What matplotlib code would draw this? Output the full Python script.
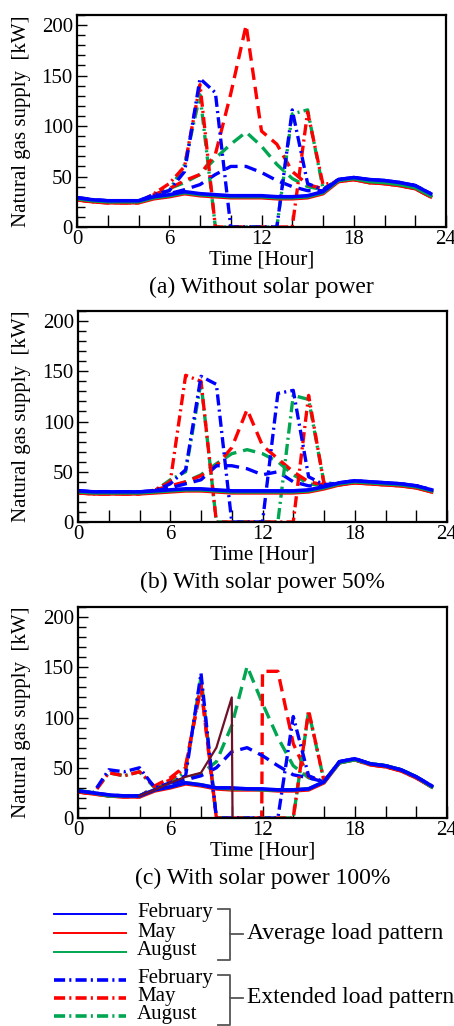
import matplotlib
matplotlib.use("Agg")
import matplotlib.pyplot as plt
from matplotlib.lines import Line2D
from matplotlib.ticker import MultipleLocator

plt.rcParams["font.family"] = ["Liberation Serif", "DejaVu Serif"]
plt.rcParams["lines.scale_dashes"] = False

hours = list(range(24))

# (a) without solar power
a_avg_feb = [29,27,26,26,26,30,32,35,33,32,31,31,31,30,30,31,35,47,49,47,46,44,41,33]
a_avg_may = [27,25,24,24,24,28,30,33,31,30,29,29,29,28,28,29,33,45,47,44,43,41,38,30]
a_avg_aug = [28,26,25,25,25,29,31,34,32,31,30,30,30,29,29,30,34,46,48,45,44,42,39,31]
a_dash_feb = [29,27,26,26,26,31,33,37,42,52,60,60,54,46,40,36,36,47,49,47,46,44,41,33]
a_dash_may = [27,25,24,24,24,32,38,46,52,72,132,200,95,82,55,42,38,45,47,44,43,41,38,30]
a_dash_aug = [28,26,25,25,25,31,38,44,52,68,82,94,80,62,48,40,37,46,48,45,44,42,39,31]
a_ext_feb = [29,27,26,26,26,32,36,55,147,133,0,0,0,0,116,43,37,47,49,47,46,44,41,33]
a_ext_may = [27,25,24,24,24,33,43,60,141,0,0,0,0,0,0,114,42,45,47,44,43,41,38,30]
a_ext_aug = [28,26,25,25,25,32,36,62,131,0,0,0,0,0,112,116,38,46,48,45,44,42,39,31]

# (b) with solar power 50%
b_avg_feb = [31,30,30,30,30,31,32,33,33,32,31,31,31,31,31,32,35,39,41,40,39,38,36,32]
b_avg_may = [29,28,28,28,28,29,30,31,31,30,29,29,29,29,29,30,33,37,39,38,37,36,34,30]
b_avg_aug = [30,29,29,29,29,30,31,32,32,31,30,30,30,30,30,31,34,38,40,39,38,37,35,31]
b_dash_feb = [31,30,30,30,30,31,34,38,42,56,56,53,47,50,40,36,36,39,41,40,39,38,36,32]
b_dash_may = [29,28,28,28,28,32,36,40,46,56,74,112,76,63,50,40,37,37,39,38,37,36,34,30]
b_dash_aug = [30,29,29,29,29,31,35,40,47,58,68,72,68,60,47,38,36,38,40,39,38,37,35,31]
b_ext_feb = [31,30,30,30,30,31,38,52,145,137,0,0,0,128,131,45,37,39,41,40,39,38,36,32]
b_ext_may = [29,28,28,28,28,32,40,146,140,0,0,0,0,0,0,126,38,37,39,38,37,36,34,30]
b_ext_aug = [30,29,29,29,29,31,42,50,139,0,0,0,0,0,126,122,39,38,40,39,38,37,35,31]

# (c) with solar power 100%
c_avg_feb = [27,25,23,22,22,28,31,35,33,30,30,29,29,28,28,29,36,56,59,54,52,48,41,32]
c_avg_may = [26,24,22,21,21,27,30,34,32,29,28,28,28,27,27,28,35,55,58,53,51,47,40,31]
c_avg_aug = [27,25,22,22,22,28,31,35,33,30,29,29,28,28,28,29,36,55,58,54,52,48,41,31]
c_dash_feb = [27,25,23,22,22,29,33,38,42,50,66,70,62,52,43,40,36,56,59,54,52,48,41,32]
c_may_hours = list(range(12)) + [11.95] + list(range(12, 24))
c_dash_may = [26,24,22,21,21,32,40,52,130,0,0,0,0,146,146,74,41,36,55,58,53,51,47,40,31]
c_dash_aug = [27,25,22,22,22,30,34,40,44,56,92,151,114,80,52,40,36,55,58,54,52,48,41,31]
c_ext_feb = [27,25,48,46,50,30,35,42,144,0,0,0,0,0,101,42,36,56,59,54,52,48,41,32]
c_ext_may = [26,24,45,42,46,31,38,50,133,0,0,0,0,0,0,107,37,55,58,53,51,47,40,31]
c_ext_aug = [27,25,45,42,46,30,36,46,140,0,0,0,0,0,0,106,37,55,58,54,52,48,41,31]
c_extra_hours = [4,5,6,7,8,9,10,10.05]
c_extra = [22,28,35,41,45,70,120,0]

captions = ["(a) Without solar power", "(b) With solar power 50%", "(c) With solar power 100%"]
months = ["February", "May", "August"]

BLUE, RED, GREEN, MAROON = "#0000ff", "#ff0000", "#00a651", "#6e1028"
DASH = (0, (9, 5))
DASHDOT = (0, (8, 3, 1.5, 3))

W, H = 454, 1026
fig = plt.figure(figsize=(W / 100, H / 100), dpi=100)

def box(left, top, right, bottom):
    return [left / W, 1 - bottom / H, (right - left) / W, (bottom - top) / H]

panel_px = [(77, 15, 446, 227), (78, 311, 447, 522), (78, 607, 447, 818)]

data = [
    (a_avg_feb, a_avg_may, a_avg_aug, a_dash_feb, a_dash_may, a_dash_aug, a_ext_feb, a_ext_may, a_ext_aug),
    (b_avg_feb, b_avg_may, b_avg_aug, b_dash_feb, b_dash_may, b_dash_aug, b_ext_feb, b_ext_may, b_ext_aug),
    (c_avg_feb, c_avg_may, c_avg_aug, c_dash_feb, c_dash_may, c_dash_aug, c_ext_feb, c_ext_may, c_ext_aug),
]

for i, (pp, d) in enumerate(zip(panel_px, data)):
    ax = fig.add_axes(box(*pp))
    avg_f, avg_m, avg_a, dsh_f, dsh_m, dsh_a, ext_f, ext_m, ext_a = d
    may_x = c_may_hours if i == 2 else hours

    ax.plot(hours, dsh_a, color=GREEN, ls=DASH, lw=2.4)
    ax.plot(may_x, dsh_m, color=RED, ls=DASH, lw=2.4)
    ax.plot(hours, dsh_f, color=BLUE, ls=DASH, lw=2.4)
    ax.plot(hours, ext_a, color=GREEN, ls=DASHDOT, lw=2.4)
    ax.plot(hours, ext_m, color=RED, ls=DASHDOT, lw=2.4)
    ax.plot(hours, ext_f, color=BLUE, ls=DASHDOT, lw=2.4)
    ax.plot(hours, avg_m, color=RED, lw=2.6)
    ax.plot(hours, avg_a, color=GREEN, lw=2.6)
    ax.plot(hours, avg_f, color=BLUE, lw=2.6)
    if i == 2:
        ax.plot(c_extra_hours, c_extra, color=MAROON, lw=1.6)

    ax.set_xlim(0, 24)
    ax.set_ylim(0, 210)
    ax.xaxis.set_major_locator(MultipleLocator(6))
    ax.xaxis.set_minor_locator(MultipleLocator(2))
    ax.yaxis.set_major_locator(MultipleLocator(50))
    ax.yaxis.set_minor_locator(MultipleLocator(10))
    ax.tick_params(axis="x", which="both", direction="in", length=9, width=1, pad=2, labelsize=15)
    ax.tick_params(axis="y", which="major", direction="in", length=7, width=1, pad=3, labelsize=15)
    ax.tick_params(axis="y", which="minor", direction="in", length=6, width=1)
    for s in ax.spines.values():
        s.set_linewidth(1.6)

    left, top, right, bottom = pp
    cx = (left + right) / 2 / W
    fig.text(cx, 1 - (bottom + 33) / H, "Time [Hour]", ha="center", va="center", fontsize=15)
    fig.text(cx, 1 - (bottom + 60) / H, captions[i], ha="center", va="center", fontsize=17)
    fig.text(22 / W, 1 - (top + bottom) / 2 / H, "Natural gas supply  [kW]",
             rotation=90, ha="center", va="center", fontsize=15)

# legend drawn in pixel coordinates
def fx(x):
    return x / W

def fy(y):
    return 1 - y / H

colors = [BLUE, RED, GREEN]
for j, y in enumerate([914, 933, 952]):
    fig.add_artist(Line2D([fx(54), fx(126)], [fy(y), fy(y)], color=colors[j], lw=1.4))
    fig.text(fx(137), fy(y - 1), months[j], ha="left", va="center", fontsize=15)
for j, y in enumerate([980, 998, 1016]):
    fig.add_artist(Line2D([fx(54), fx(126)], [fy(y), fy(y)], color=colors[j], lw=2.6, ls=DASHDOT))
    fig.text(fx(137), fy(y - 1), months[j], ha="left", va="center", fontsize=15)

gray = "#555555"
for top, bot, mid, label in [(909, 960, 934, "Average load pattern"), (975, 1025, 998, "Extended load pattern")]:
    fig.add_artist(Line2D([fx(218), fx(230), fx(230), fx(218)], [fy(top), fy(top), fy(bot), fy(bot)],
                          color=gray, lw=1.3))
    fig.add_artist(Line2D([fx(230), fx(243)], [fy(mid), fy(mid)], color=gray, lw=1.3))
    fig.text(fx(247), fy(mid), label, ha="left", va="center", fontsize=17)

fig.savefig("out.png", dpi=100)
